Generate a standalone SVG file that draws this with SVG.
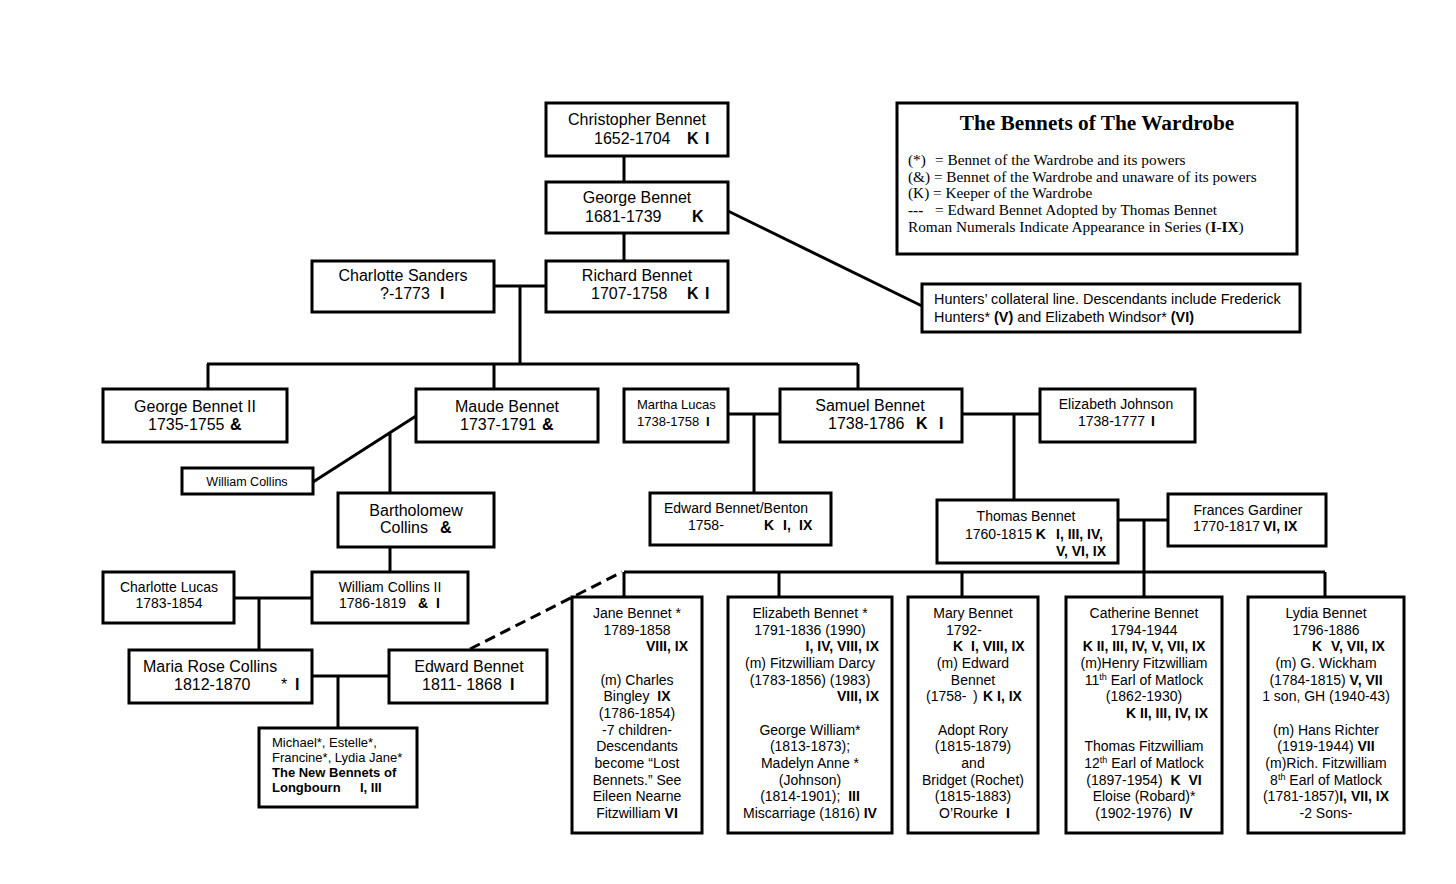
<svg xmlns="http://www.w3.org/2000/svg" width="1456" height="884" viewBox="0 0 1456 884">
<style>
.box{fill:#fff;stroke:#000;stroke-width:3}
.ln{fill:none;stroke:#000;stroke-width:3}
.dash{fill:none;stroke:#000;stroke-width:3;stroke-dasharray:11 6}
text{font-family:"Liberation Sans",Arial,sans-serif;fill:#000}
.f16{font-size:16px}
.f14{font-size:14px}
.f13{font-size:13px}
.f12{font-size:12.5px}
.b{font-weight:bold}
.m{text-anchor:middle}
.e{text-anchor:end}
.ser{font-family:"Liberation Serif","Times New Roman",serif}
.lg{font-size:15.3px}
.sup{font-size:9px}
</style>
<rect width="1456" height="884" fill="#fff"/>
<g id="connectors">
<path class="ln" d="M624 156V182M624 233V261"/>
<path class="ln" d="M494 286H546M520 286V364M207 364H858M208 364V389M494 364V389M858 364V389"/>
<path class="ln" d="M728 211L922 306"/>
<path class="ln" d="M416 416L313 482M390 432V493"/>
<path class="ln" d="M390 547V572"/>
<path class="ln" d="M234 598H312M259 598V650"/>
<path class="ln" d="M312 676H389M338 676V728"/>
<path class="dash" d="M470 649L622 572"/>
<path class="ln" d="M728 414H780M754 414V493"/>
<path class="ln" d="M962 414H1040M1014 414V500"/>
<path class="ln" d="M1118 520H1168M1144 520V572"/>
<path class="ln" d="M624 572H1325M624 572V597M779 572V597M962 572V597M1144 572V597M1325 572V597"/>
</g>
<g id="legend">
<rect class="box" x="897" y="103" width="400" height="151"/>
<text class="ser b m" x="1097" y="130" font-size="21.3">The Bennets of The Wardrobe</text>
<text class="ser lg" x="908" y="165">(*)<tspan x="935">= Bennet of the Wardrobe and its powers</tspan></text>
<text class="ser lg" x="908" y="182">(&amp;) = Bennet of the Wardrobe and unaware of its powers</text>
<text class="ser lg" x="908" y="198">(K) = Keeper of the Wardrobe</text>
<text class="ser lg" x="908" y="215"><tspan class="b">---</tspan><tspan x="935">= Edward Bennet Adopted by Thomas Bennet</tspan></text>
<text class="ser lg" x="908" y="232">Roman Numerals Indicate Appearance in Series (<tspan class="b">I-IX</tspan>)</text>
</g>
<g id="christopher">
<rect class="box" x="546" y="103" width="182" height="53"/>
<text class="f16 m" x="637" y="125">Christopher Bennet</text>
<text class="f16" x="594" y="144">1652-1704<tspan class="b" x="687">K</tspan><tspan class="b" x="705">I</tspan></text>
</g>
<g id="george">
<rect class="box" x="546" y="182" width="182" height="51"/>
<text class="f16 m" x="637" y="203">George Bennet</text>
<text class="f16" x="585" y="222">1681-1739<tspan class="b" x="692">K</tspan></text>
</g>
<g id="richard">
<rect class="box" x="546" y="261" width="182" height="51"/>
<text class="f16 m" x="637" y="281">Richard Bennet</text>
<text class="f16" x="591" y="299">1707-1758<tspan class="b" x="687">K</tspan><tspan class="b" x="705">I</tspan></text>
</g>
<g id="charlotte-sanders">
<rect class="box" x="312" y="261" width="182" height="51"/>
<text class="f16 m" x="403" y="281">Charlotte Sanders</text>
<text class="f16" x="380" y="299">?-1773<tspan class="b" x="440">I</tspan></text>
</g>
<g id="hunters">
<rect class="box" x="922" y="284" width="378" height="48"/>
<text font-size="14.4" x="934" y="304">Hunters’ collateral line. Descendants include Frederick</text>
<text font-size="14.4" x="934" y="322">Hunters* <tspan class="b">(V)</tspan> and Elizabeth Windsor* <tspan class="b">(VI)</tspan></text>
</g>
<g id="george-ii">
<rect class="box" x="103" y="389" width="184" height="53"/>
<text class="f16 m" x="195" y="412">George Bennet II</text>
<text class="f16" x="148" y="430">1735-1755<tspan class="b" x="230">&amp;</tspan></text>
</g>
<g id="maude">
<rect class="box" x="416" y="389" width="182" height="53"/>
<text class="f16 m" x="507" y="412">Maude Bennet</text>
<text class="f16" x="460" y="430">1737-1791<tspan class="b" x="542">&amp;</tspan></text>
</g>
<g id="martha-lucas">
<rect class="box" x="624" y="389" width="104" height="53"/>
<text class="f13" x="637" y="409">Martha Lucas</text>
<text class="f13" x="637" y="426">1738-1758<tspan class="b" x="706">I</tspan></text>
</g>
<g id="samuel">
<rect class="box" x="780" y="389" width="182" height="53"/>
<text class="f16 m" x="870" y="411">Samuel Bennet</text>
<text class="f16" x="828" y="429">1738-1786<tspan class="b" x="916">K</tspan><tspan class="b" x="939">I</tspan></text>
</g>
<g id="elizabeth-johnson">
<rect class="box" x="1040" y="389" width="155" height="53"/>
<text class="f14 m" x="1116" y="409">Elizabeth Johnson</text>
<text class="f14" x="1078" y="426">1738-1777<tspan class="b" x="1151">I</tspan></text>
</g>
<g id="william-collins">
<rect class="box" x="182" y="468" width="131" height="26"/>
<text class="f12 m" x="247" y="486">William Collins</text>
</g>
<g id="bartholomew">
<rect class="box" x="338" y="493" width="156" height="54"/>
<text class="f16 m" x="416" y="516">Bartholomew</text>
<text class="f16" x="380" y="533">Collins<tspan class="b" x="440">&amp;</tspan></text>
</g>
<g id="edward-benton">
<rect class="box" x="650" y="493" width="181" height="52"/>
<text class="f14 m" x="736" y="513">Edward Bennet/Benton</text>
<text class="f14" x="688" y="530">1758-<tspan class="b" x="764">K</tspan><tspan class="b" x="783">I,</tspan><tspan class="b" x="799">IX</tspan></text>
</g>
<g id="thomas">
<rect class="box" x="937" y="500" width="181" height="63"/>
<text class="f14 m" x="1026" y="521">Thomas Bennet</text>
<text class="f14" x="965" y="539">1760-1815 <tspan class="b">K</tspan><tspan class="b" x="1056">I, III, IV,</tspan></text>
<text class="f14 b e" x="1106" y="556">V, VI, IX</text>
</g>
<g id="frances">
<rect class="box" x="1168" y="494" width="158" height="52"/>
<text class="f14 m" x="1248" y="515">Frances Gardiner</text>
<text class="f14" x="1193" y="531">1770-1817<tspan class="b" x="1263">VI, IX</tspan></text>
</g>
<g id="charlotte-lucas">
<rect class="box" x="103" y="572" width="131" height="51"/>
<text class="f14 m" x="169" y="592">Charlotte Lucas</text>
<text class="f14 m" x="169" y="608">1783-1854</text>
</g>
<g id="william-collins-ii">
<rect class="box" x="312" y="572" width="156" height="51"/>
<text class="f14 m" x="390" y="592">William Collins II</text>
<text class="f14" x="339" y="608">1786-1819<tspan class="b" x="418">&amp;</tspan><tspan class="b" x="436">I</tspan></text>
</g>
<g id="maria-rose">
<rect class="box" x="129" y="650" width="183" height="53"/>
<text class="f16" x="143" y="672">Maria Rose Collins</text>
<text class="f16" x="174" y="690">1812-1870<tspan x="281">*</tspan><tspan class="b" x="295">I</tspan></text>
</g>
<g id="edward-bennet">
<rect class="box" x="389" y="650" width="158" height="53"/>
<text class="f16 m" x="469" y="672">Edward Bennet</text>
<text class="f16" x="422" y="690">1811- 1868<tspan class="b" x="510">I</tspan></text>
</g>
<g id="new-bennets">
<rect class="box" x="259" y="728" width="158" height="79"/>
<text class="f13" x="272" y="747">Michael*, Estelle*,</text>
<text class="f13" x="272" y="762">Francine*, Lydia Jane*</text>
<text class="f13 b" x="272" y="777">The New Bennets of</text>
<text class="f13 b" x="272" y="792">Longbourn<tspan x="360">I, III</tspan></text>
</g>
<g id="jane">
<rect class="box" x="572" y="597" width="130" height="236"/>
<text class="f14 m" x="637" y="618">Jane Bennet *</text>
<text class="f14 m" x="637" y="634.7">1789-1858</text>
<text class="f14 b e" x="688" y="651.3">VIII, IX</text>
<text class="f14 m" x="637" y="684.7">(m) Charles</text>
<text class="f14 m" x="637" y="701.3">Bingley <tspan class="b" dx="4">IX</tspan></text>
<text class="f14 m" x="637" y="718">(1786-1854)</text>
<text class="f14 m" x="637" y="734.7">-7 children-</text>
<text class="f14 m" x="637" y="751.3">Descendants</text>
<text class="f14 m" x="637" y="768">become “Lost</text>
<text class="f14 m" x="637" y="784.7">Bennets.” See</text>
<text class="f14 m" x="637" y="801.3">Eileen Nearne</text>
<text class="f14 m" x="637" y="818">Fitzwilliam <tspan class="b">VI</tspan></text>
</g>
<g id="elizabeth">
<rect class="box" x="728" y="597" width="164" height="236"/>
<text class="f14 m" x="810" y="618">Elizabeth Bennet *</text>
<text class="f14 m" x="810" y="634.7">1791-1836 (1990)</text>
<text class="f14 b e" x="879" y="651.3">I, IV, VIII, IX</text>
<text class="f14 m" x="810" y="668">(m) Fitzwilliam Darcy</text>
<text class="f14 m" x="810" y="684.7">(1783-1856) (1983)</text>
<text class="f14 b e" x="879" y="701.3">VIII, IX</text>
<text class="f14 m" x="810" y="734.7">George William*</text>
<text class="f14 m" x="810" y="751.3">(1813-1873);</text>
<text class="f14 m" x="810" y="768">Madelyn Anne *</text>
<text class="f14 m" x="810" y="784.7">(Johnson)</text>
<text class="f14 m" x="810" y="801.3">(1814-1901); <tspan class="b" dx="4">III</tspan></text>
<text class="f14 m" x="810" y="818">Miscarriage (1816) <tspan class="b">IV</tspan></text>
</g>
<g id="mary">
<rect class="box" x="908" y="597" width="130" height="236"/>
<text class="f14 m" x="973" y="618">Mary Bennet</text>
<text class="f14" x="946" y="634.7">1792-</text>
<text class="f14 b" x="953" y="651.3">K<tspan x="971">I, VIII, IX</tspan></text>
<text class="f14 m" x="973" y="668">(m) Edward</text>
<text class="f14 m" x="973" y="684.7">Bennet</text>
<text class="f14" x="926" y="701.3">(1758-<tspan x="973">)</tspan><tspan class="b" x="983">K I, IX</tspan></text>
<text class="f14 m" x="973" y="734.7">Adopt Rory</text>
<text class="f14 m" x="973" y="751.3">(1815-1879)</text>
<text class="f14 m" x="973" y="768">and</text>
<text class="f14 m" x="973" y="784.7">Bridget (Rochet)</text>
<text class="f14 m" x="973" y="801.3">(1815-1883)</text>
<text class="f14" x="939" y="818">O’Rourke<tspan class="b" x="1006">I</tspan></text>
</g>
<g id="catherine">
<rect class="box" x="1066" y="597" width="156" height="236"/>
<text class="f14 m" x="1144" y="618">Catherine Bennet</text>
<text class="f14 m" x="1144" y="634.7">1794-1944</text>
<text class="f14 b m" x="1144" y="651.3">K II, III, IV, V, VII, IX</text>
<text class="f14 m" x="1144" y="668">(m)Henry Fitzwilliam</text>
<text class="f14 m" x="1144" y="684.7">11<tspan class="sup" dy="-5">th</tspan><tspan dy="5"> Earl of Matlock</tspan></text>
<text class="f14 m" x="1144" y="701.3">(1862-1930)</text>
<text class="f14 b e" x="1208" y="718">K II, III, IV, IX</text>
<text class="f14 m" x="1144" y="751.3">Thomas Fitzwilliam</text>
<text class="f14 m" x="1144" y="768">12<tspan class="sup" dy="-5">th</tspan><tspan dy="5"> Earl of Matlock</tspan></text>
<text class="f14 m" x="1144" y="784.7">(1897-1954) <tspan class="b" dx="4">K</tspan><tspan class="b" dx="4"> VI</tspan></text>
<text class="f14 m" x="1144" y="801.3">Eloise (Robard)*</text>
<text class="f14 m" x="1144" y="818">(1902-1976) <tspan class="b" dx="4">IV</tspan></text>
</g>
<g id="lydia">
<rect class="box" x="1248" y="597" width="156" height="236"/>
<text class="f14 m" x="1326" y="618">Lydia Bennet</text>
<text class="f14 m" x="1326" y="634.7">1796-1886</text>
<text class="f14 b" x="1312" y="651.3">K<tspan x="1331">V, VII, IX</tspan></text>
<text class="f14 m" x="1326" y="668">(m) G. Wickham</text>
<text class="f14 m" x="1326" y="684.7">(1784-1815) <tspan class="b">V, VII</tspan></text>
<text class="f14 m" x="1326" y="701.3">1 son, GH (1940-43)</text>
<text class="f14 m" x="1326" y="734.7">(m) Hans Richter</text>
<text class="f14 m" x="1326" y="751.3">(1919-1944) <tspan class="b">VII</tspan></text>
<text class="f14 m" x="1326" y="768">(m)Rich. Fitzwilliam</text>
<text class="f14 m" x="1326" y="784.7">8<tspan class="sup" dy="-5">th</tspan><tspan dy="5"> Earl of Matlock</tspan></text>
<text class="f14 m" x="1326" y="801.3">(1781-1857)<tspan class="b">I, VII, IX</tspan></text>
<text class="f14 m" x="1326" y="818">-2 Sons-</text>
</g>
</svg>
